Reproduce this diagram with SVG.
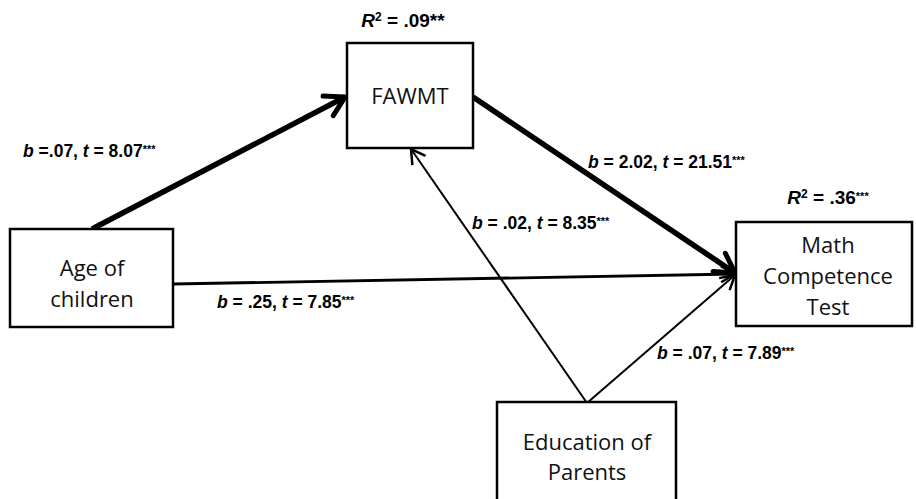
<svg xmlns="http://www.w3.org/2000/svg" width="916" height="499" viewBox="0 0 916 499">
<style>
.box{fill:#fff;stroke:#000;stroke-width:2.5}
.nt{font-family:"Open Sans","Liberation Sans",sans-serif;font-size:22px;fill:#111;text-anchor:middle}
.lb{font-family:"Liberation Sans",Arial,sans-serif;font-size:17.5px;font-weight:bold;fill:#000}
.rs{font-size:19px}
.st{font-size:11px}
.thick{stroke:#000;stroke-width:5.5;fill:none}
.thin{stroke:#000;stroke-width:2;fill:none}
.mid{stroke:#000;stroke-width:2.8;fill:none}
</style>
<defs>
<marker id="ah" viewBox="0 0 20 20" refX="18" refY="10" markerWidth="20" markerHeight="20" markerUnits="userSpaceOnUse" orient="auto">
<path d="M4,2 L18,10 L4,18" fill="none" stroke="#000" stroke-width="2.5" stroke-linejoin="miter"/>
</marker>
<marker id="ahT" viewBox="0 0 30 30" refX="27" refY="15" markerWidth="30" markerHeight="30" markerUnits="userSpaceOnUse" orient="auto">
<path d="M8,4 L27,15 L8,26" fill="none" stroke="#000" stroke-width="5" stroke-linecap="round"/>
</marker>
</defs>
<g id="connectors">
<line class="thick" x1="92" y1="229" x2="345" y2="97" marker-end="url(#ahT)"/>
<line class="thick" x1="473" y1="97" x2="735" y2="273" marker-end="url(#ahT)"/>
<line class="mid" x1="173" y1="284" x2="735" y2="274" marker-end="url(#ah)"/>
<line class="thin" x1="587" y1="403" x2="411" y2="149" marker-end="url(#ah)"/>
<line class="thin" x1="587" y1="403" x2="735" y2="275" marker-end="url(#ah)"/>
</g>
<g id="node-fawmt">
<rect class="box" x="347" y="43" width="126" height="105"/>
<text class="nt" x="410" y="104">FAWMT</text>
<text class="lb rs" x="403" y="27" text-anchor="middle"><tspan font-style="italic">R</tspan><tspan font-size="12" dy="-6">2</tspan><tspan dy="6"> = .09**</tspan></text>
</g>
<g id="node-age">
<rect class="box" x="10" y="229" width="163" height="98"/>
<text class="nt" x="92" y="276">Age of</text>
<text class="nt" x="92" y="307">children</text>
</g>
<g id="node-math">
<rect class="box" x="736" y="222" width="176" height="104"/>
<text class="nt" x="828" y="253">Math</text>
<text class="nt" x="828" y="284">Competence</text>
<text class="nt" x="828" y="315">Test</text>
<text class="lb rs" x="828" y="204" text-anchor="middle"><tspan font-style="italic">R</tspan><tspan font-size="12" dy="-6">2</tspan><tspan dy="6"> = .36</tspan><tspan class="st" dy="-4">***</tspan></text>
</g>
<g id="node-parents">
<rect class="box" x="497" y="402" width="179" height="110"/>
<text class="nt" x="587" y="450">Education of</text>
<text class="nt" x="587" y="480">Parents</text>
</g>
<g id="labels">
<text class="lb" x="23" y="157"><tspan font-style="italic">b</tspan> =.07, <tspan font-style="italic">t</tspan> = 8.07<tspan class="st" dy="-4">***</tspan></text>
<text class="lb" x="588" y="168"><tspan font-style="italic">b</tspan> = 2.02, <tspan font-style="italic">t</tspan> = 21.51<tspan class="st" dy="-4">***</tspan></text>
<text class="lb" x="472" y="229"><tspan font-style="italic">b</tspan> = .02, <tspan font-style="italic">t</tspan> = 8.35<tspan class="st" dy="-4">***</tspan></text>
<text class="lb" x="217" y="308"><tspan font-style="italic">b</tspan> = .25, <tspan font-style="italic">t</tspan> = 7.85<tspan class="st" dy="-4">***</tspan></text>
<text class="lb" x="657" y="359"><tspan font-style="italic">b</tspan> = .07, <tspan font-style="italic">t</tspan> = 7.89<tspan class="st" dy="-4">***</tspan></text>
</g>
</svg>
